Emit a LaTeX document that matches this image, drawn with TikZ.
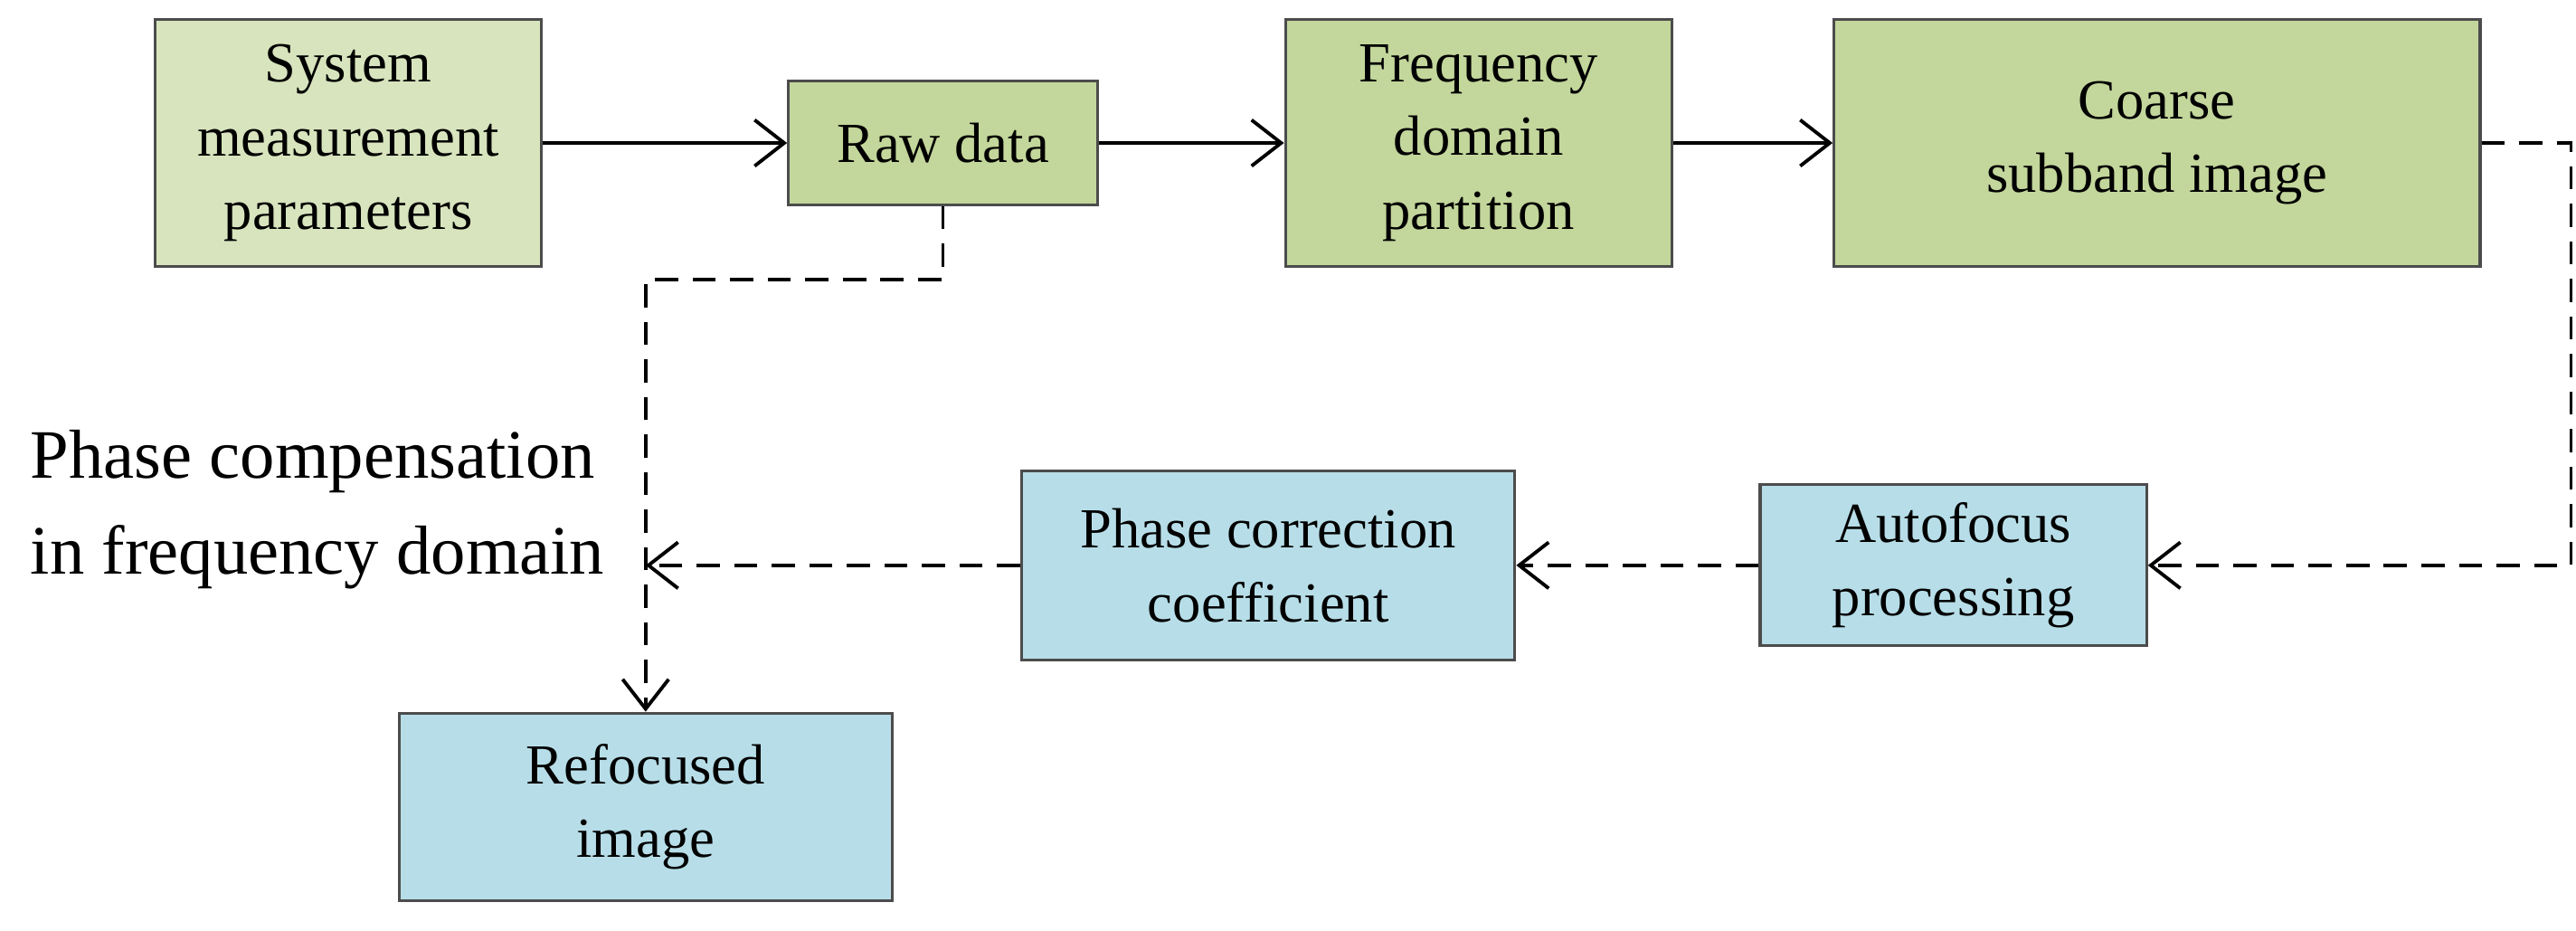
\documentclass[tikz,border=0pt]{standalone}
\usepackage{fontspec}
\setmainfont{Liberation Serif}
\usetikzlibrary{arrows.meta}
\begin{document}
\begin{tikzpicture}[x=0.01cm,y=-0.01cm,
box/.style={draw=black!70,line width=0.5pt,align=center,font=\fontsize{9.8}{12.8}\selectfont,inner sep=0pt},
g2/.style={box,fill={rgb,255:red,195;green,214;blue,155}},
bl/.style={box,fill={rgb,255:red,183;green,222;blue,232}},
tip/.style={-{Straight Barb[length=0.18cm,width=0.28cm,line width=0.6pt]}},
sl/.style={tip,line width=0.6pt},
dl/.style={tip,line width=0.6pt,dash pattern=on 4pt off 2.5pt}]
\useasboundingbox (0,0) rectangle (1568,566);
\node[box,fill={rgb,255:red,215;green,228;blue,189},minimum width=2.35cm,minimum height=1.5cm] (sys) at (212,87) {System\\measurement\\parameters};
\node[g2,minimum width=1.88cm,minimum height=0.75cm] (raw) at (574,87) {Raw data};
\node[g2,minimum width=2.35cm,minimum height=1.5cm] (freq) at (900,87) {Frequency\\domain\\partition};
\node[g2,minimum width=3.93cm,minimum height=1.5cm] (coarse) at (1313,87) {Coarse\\subband image};
\node[bl,minimum width=2.35cm,minimum height=0.98cm] (auto) at (1189,344) {Autofocus\\processing};
\node[bl,minimum width=3.0cm,minimum height=1.15cm] (pcc) at (772,344) {Phase correction\\coefficient};
\node[bl,minimum width=3.0cm,minimum height=1.14cm] (ref) at (393,491) {Refocused\\image};
\node[align=left,font=\fontsize{12}{16.5}\selectfont,anchor=west,inner sep=0pt] (lab) at (18,310) {Phase compensation\\in frequency domain};
\coordinate (m) at (393,344);
\draw[sl] (sys) -- (raw);
\draw[sl] (raw) -- (freq);
\draw[sl] (freq) -- (coarse);
\draw[dl] (coarse.east) -- (1565,87) -- (1565,344) -- (auto.east);
\draw[dl] (auto) -- (pcc);
\draw[dl] (pcc) -- (m);
\draw[dl] (raw.south) -- (574,170) -- (393,170) -- (ref.north);
\end{tikzpicture}
\end{document}
